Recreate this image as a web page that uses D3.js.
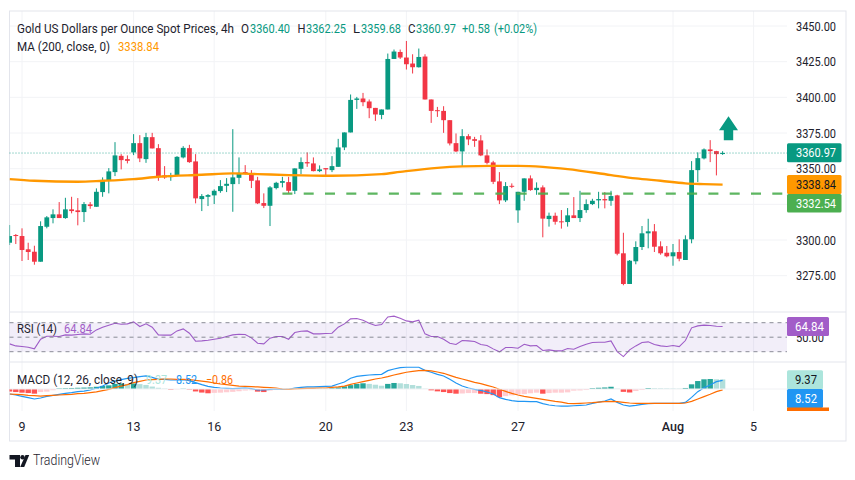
<!DOCTYPE html>
<html>
<head>
<meta charset="utf-8">
<style>
  html, body { margin: 0; background: #fff; }
  text { font-family: Roboto, sans-serif; font-size: 12.5px; fill: #1E222D; }
</style>
<script src="https://cdn.jsdelivr.net/npm/d3@7/dist/d3.min.js"></script>
</head>
<body>
<div id="app"></div>
<script>
// DATA
const opens = [
  3298.1, 3303.5, 3302.8, 3293.5, 3291.8, 3284.8, 3309.3, 3315.4, 3318, 3315.4,
  3321.5, 3320.8, 3319.6, 3325, 3323.3, 3333.6, 3342, 3347.6, 3359, 3356.7,
  3361.4, 3367.9, 3356.7, 3372.1, 3364.4, 3345.3, 3344.1, 3345.3, 3357.9, 3364.4,
  3355.1, 3328.7, 3330.3, 3331.3, 3334.3, 3338, 3339.2, 3343.6, 3347.6, 3346.9,
  3341.8, 3325.9, 3324, 3336.4, 3340.1, 3340.6, 3334.5, 3349.9, 3354.6, 3353.7,
  3348.3, 3350.4, 3349, 3351.3, 3364.9, 3375.4, 3398.2, 3399.2, 3397.1, 3392.6,
  3387.7, 3391.5, 3426.9, 3431.8, 3427.9, 3423.7, 3421.1, 3428.6, 3398.5, 3391,
  3390.5, 3384, 3367.9, 3362.1, 3372.8, 3370.7, 3369.8, 3359.3, 3354.4, 3341.1,
  3327.8, 3338, 3320.8, 3333.8, 3343.2, 3335, 3336.9, 3314.7, 3317, 3313.1,
  3312.6, 3317.3, 3315.4, 3321, 3325.2, 3327.8, 3328.7, 3327.5, 3331.3, 3290.7,
  3269.2, 3285.1, 3295.1, 3304.7, 3306.1, 3295.6, 3291.1, 3288.6, 3291.6, 3286,
  3300.5, 3349, 3357.2, 3363.5, 3362.3, 3360.40
];
const closes = [
  3302.8, 3302.8, 3293, 3291.6, 3284.8, 3309.8, 3315.9, 3318, 3315.4, 3321.5,
  3320.3, 3319.6, 3325.2, 3323.8, 3333.8, 3342, 3348.1, 3359.3, 3356, 3355.5,
  3367.9, 3357.2, 3372.1, 3364.2, 3344.8, 3343.9, 3345.5, 3358.3, 3364.6, 3354.6,
  3329.2, 3330.8, 3331.5, 3334.5, 3337.8, 3339.4, 3343.9, 3347.1, 3346.7, 3341.5,
  3325.7, 3324, 3336.9, 3340.1, 3341.3, 3334.5, 3350.2, 3354.6, 3353.7, 3348.3,
  3349.5, 3349.5, 3351.8, 3364.9, 3375.4, 3398.2, 3399.2, 3396.6, 3392.4, 3388,
  3391.5, 3426.9, 3432.1, 3427.9, 3423.2, 3421.1, 3428.3, 3398.5, 3390.5, 3390.3,
  3384, 3367.7, 3362.1, 3372.8, 3370.5, 3369.5, 3359.3, 3354.1, 3340.8, 3327.8,
  3337.8, 3337.3, 3333.8, 3343.2, 3335, 3336.6, 3315, 3317, 3312.8, 3312.6,
  3317.3, 3315.4, 3321, 3325.2, 3327.5, 3328.7, 3327.8, 3330.8, 3290.4, 3269.2,
  3285.5, 3295.1, 3304.7, 3306.1, 3295.3, 3290.7, 3288.6, 3291.4, 3286.9, 3300.5,
  3349, 3357.4, 3363.5, 3362.3, 3360.2, 3360.97
];
const highs = [
  3310.5, 3304.2, 3308.2, 3298.1, 3296, 3313.1, 3316.8, 3321.5, 3326.6, 3329.6,
  3330.3, 3329.4, 3326.6, 3326.6, 3336.2, 3343.9, 3350.4, 3368.6, 3360.2, 3359.3,
  3374.2, 3373.5, 3375.1, 3375.1, 3367.2, 3351.8, 3347.1, 3358.8, 3365.8, 3366.7,
  3360.2, 3332.2, 3332.2, 3335.5, 3342, 3343.4, 3377.7, 3357.9, 3352.5, 3349,
  3344.3, 3332.7, 3337.8, 3340.8, 3344.3, 3344.3, 3350.2, 3357.9, 3361.4, 3357.9,
  3352.3, 3350.4, 3358.8, 3370.9, 3375.4, 3402, 3400.3, 3403.1, 3398.5, 3392.6,
  3391.5, 3430.7, 3433.5, 3433.5, 3439.5, 3430.2, 3434.2, 3430.2, 3398.5, 3393.3,
  3393.8, 3384, 3374.7, 3377.7, 3374.2, 3372.3, 3373.5, 3363.5, 3355.5, 3347.6,
  3340.6, 3339.7, 3333.8, 3343.2, 3345.3, 3340.4, 3338.3, 3319.2, 3319.2, 3321,
  3322.4, 3330.1, 3334.5, 3328.5, 3328.9, 3333.8, 3333.6, 3334.5, 3331.7, 3305.1,
  3286, 3299.1, 3309.8, 3314.9, 3311.2, 3299.1, 3295.8, 3297.2, 3300.5, 3303.3,
  3355.3, 3361.4, 3364.2, 3370, 3362.5, 3362.25
];
const lows = [
  3296.5, 3297.2, 3285.3, 3286, 3282.7, 3284.8, 3308.2, 3311.7, 3315.4, 3314.9,
  3318.7, 3310.3, 3312.6, 3321.9, 3323.3, 3330.3, 3332.7, 3344.8, 3349.5, 3353.7,
  3359.5, 3354.6, 3354.1, 3364.2, 3341.5, 3342.9, 3341.5, 3344.8, 3357.2, 3354.1,
  3325.7, 3320.3, 3323.8, 3325.2, 3333.1, 3333.6, 3319.8, 3339.2, 3346, 3336.4,
  3325.2, 3322.4, 3309.8, 3335.5, 3336.9, 3332.7, 3332.2, 3346.2, 3351.3, 3348.1,
  3347.6, 3345, 3347.6, 3351.3, 3363, 3375.4, 3391.9, 3393.8, 3385.4, 3383.5,
  3384.7, 3391.5, 3426.9, 3426.9, 3419.5, 3416.7, 3420.9, 3398.5, 3382.1, 3386.3,
  3375.1, 3366.3, 3361.6, 3351.8, 3366.5, 3365.3, 3358.8, 3353, 3339.2, 3325.2,
  3326.6, 3336.4, 3312.1, 3327.5, 3334.5, 3331.7, 3301.9, 3309.4, 3310.8, 3308,
  3309.4, 3315.4, 3312.6, 3319.1, 3324.5, 3322.2, 3322.2, 3324, 3289.3, 3268.3,
  3269.2, 3283, 3293, 3294.2, 3291.6, 3289.7, 3287.9, 3282, 3285.1, 3286,
  3297.7, 3340.6, 3356.5, 3354.6, 3345.3, 3359.68
];

const maBars = [0, 4, 11, 15, 20, 24, 31, 36, 40, 45, 52, 60, 63, 69, 73, 78, 82, 86, 90, 97, 101, 105, 109, 112, 115];
const maValues = [
  3342.7, 3341.5, 3340.8, 3341.5, 3342.7, 3344.3, 3345.7, 3346.7, 3346.2, 3345.5,
  3345, 3346.2, 3347.8, 3350.6, 3351.6, 3352, 3352, 3351.3, 3349.7, 3345.5,
  3343.2, 3341.5, 3339.7, 3339.2, 3338.84
];

const rsiValues = [
  40.8, 38, 37.1, 36.2, 33.9, 47.2, 51.4, 51.4, 50.9, 53.2,
  52.8, 53.7, 54.6, 54.1, 60.1, 63.8, 66.6, 69.3, 67.9, 68.4,
  71.1, 64.7, 68.4, 63.8, 53.2, 52.8, 52.8, 58.7, 61.5, 55.5,
  44.5, 44.9, 45.9, 47.2, 48.6, 50.9, 53.2, 54.1, 53.7, 49.1,
  41.7, 40.8, 48.6, 50.9, 50.9, 47.2, 56.4, 58.3, 58.7, 54.6,
  54.6, 55.1, 55.5, 63.8, 68.4, 75.3, 75.7, 73.4, 69.3, 66.1,
  67.5, 78, 79, 76.2, 72.5, 71.1, 73.4, 54.6, 50.9, 50.9,
  47.2, 41.7, 39.9, 45.4, 44.9, 44, 39.9, 38.5, 33.9, 29.8,
  35.7, 35.7, 34.8, 40.3, 38, 38.5, 31.6, 32.5, 31.1, 31.1,
  34.4, 33.4, 37.1, 40.3, 42.6, 43.1, 43.1, 44.9, 30.2, 23.3,
  32.5, 38, 42.6, 43.6, 39.9, 38, 37.1, 38.5, 37.1, 45.4,
  62.9, 65.6, 66.6, 66.1, 65.2, 64.84
];

const macdValues = [
  -4.9, -5.9, -7.2, -8.5, -9.8, -8.8, -7.2, -6.2, -5.2, -4.3,
  -3.6, -2.6, -2, -1, 0.7, 2.9, 5.9, 7.8, 9.2, 10.5,
  11.1, 12.1, 12.8, 11.4, 9.5, 9.5, 8.8, 8.8, 9.2, 8.2,
  6.2, 4.3, 2.6, 1.6, 1, 0.7, 0.3, 0.7, 1, 0.3,
  -1, -1, -0.3, 0, -0.3, -0.3, 1, 1.6, 2, 2,
  2.3, 2.6, 2.9, 4.9, 6.9, 10.5, 12.4, 13.1, 13.7, 14.1,
  14.4, 18, 19.6, 20.9, 21.3, 21.3, 21.3, 18.3, 16.4, 14.4,
  12.8, 9.5, 5.9, 2.9, 1, -0.3, -1.3, -2.9, -4.9, -8.5,
  -10.1, -11.4, -12.1, -12.1, -12.4, -12.4, -14.4, -15.7, -16.4, -16.7,
  -16.7, -16.4, -16, -15.7, -14.1, -12.8, -11.8, -9.8, -13.1, -15.7,
  -16.7, -16, -15, -14.4, -14.1, -14.1, -14.1, -14.1, -14.1, -13.1,
  -8.2, -2.6, 1.3, 3.9, 7.2, 8.52
];
const signalValues = [
  -4.9, -5.2, -5.6, -6.2, -6.5, -6.9, -6.5, -6.2, -5.9, -5.6,
  -5.2, -4.6, -4.3, -3.6, -2.9, -1.6, -0.3, 1.3, 2.9, 4.3,
  6.2, 7.5, 8.8, 9.2, 9.5, 9.8, 9.8, 9.5, 9.5, 9.2,
  8.5, 7.8, 6.9, 5.9, 4.9, 4.3, 3.6, 2.9, 2.6, 2.3,
  2, 1.6, 1.3, 1, 0, -0.3, 0, 0.3, 0.7, 0.7,
  1, 1, 1.6, 2, 2.9, 4.6, 5.9, 7.2, 8.5, 9.8,
  10.8, 12.1, 13.7, 15, 16.4, 17.3, 18, 18.3, 17.7, 16.7,
  15.4, 13.4, 11.4, 9.8, 8.2, 6.5, 5.2, 3.6, 2, -0.3,
  -2.3, -4.3, -5.9, -7.2, -8.2, -9.2, -10.1, -11.1, -12.1, -12.8,
  -14.1, -14.4, -14.1, -13.7, -13.4, -12.8, -12.4, -12.1, -12.4, -13.1,
  -13.7, -14.1, -14.1, -14.1, -14.1, -14.1, -14.1, -14.1, -14.1, -13.7,
  -12.1, -9.8, -7.5, -5.2, -2.6, -0.86
];
const histValues = [
  -2.5, -3, -3.6, -4, -4.6, -3, -2.6, -1.2, 0.6, 0.8,
  1, 1.2, 1.4, 1.6, 2.2, 3, 3.6, 5, 5.4, 4.8,
  5.4, 4.8, 4, 2.4, 1.2, 0.4, -0.6, -0.3, 0.3, -0.5,
  -2.4, -3.5, -4.2, -3.8, -3.6, -3.2, -2.8, -2.2, -1.5, -1.2,
  -2.6, -3, -1.5, -1, -0.6, 0.1, 0.4, 0.9, 1, 0.9,
  0.8, 0.7, 0.8, 1.6, 2.6, 3.8, 5, 5.6, 5, 4.2,
  3.2, 5, 5.9, 5.6, 4.9, 3.9, 3, 0.3, -1.3, -2.3,
  -3, -4, -4.6, -4.4, -4, -4, -4.6, -5, -6, -8,
  -7, -6.2, -5.2, -5, -4.2, -3.6, -4.6, -4, -3.6, -3.6,
  -3.3, -1.6, -1.4, -1, 0.8, 1.2, 1.5, 2.2, 0.3, -2.8,
  -3.4, -2, -1, 0.9, 0.8, 0.7, 0.6, 0.5, 0.4, 1,
  4.6, 7.8, 9.5, 9.8, 9.5, 9.37
];

const priceTicks = [3450, 3425, 3400, 3375, 3350, 3300, 3275];
const priceGrid = [3450, 3425, 3400, 3375, 3350, 3325, 3300, 3275];
const dateBars = [2, 20, 33, 51, 64, 82, 107, 120];
const dateLabels = ['9', '13', '16', '20', '23', '27', 'Aug', '5'];

const lastClose = 3360.97;
const maLast = 3338.84;
const support = 3332.54;
const supportStartBar = 44;
const arrowBar = 116;
const arrowTop = 3386.8;

const GREEN = '#089981';
const RED = '#F23645';
const GRID = '#F2F3F6';
const BORDER = '#E3E5EC';
const PURPLE = '#A25DC8';

// SCALES
const PANE_LEFT = 9.5;
const PANE_RIGHT = 787;
const x = d3.scaleLinear().domain([0, 115]).range([9.6, 722.6]);
const y = d3.scaleLinear().domain([3275, 3450]).range([275.7, 26]);
const yRsi = d3.scaleLinear().domain([30, 70]).range([351.7, 322.7]);
const yMacd = d3.scaleLinear().domain([-20, 20]).range([409.4, 368.6]);

const $svg = d3.select('#app')
  .append('svg')
  .attr('width', 855)
  .attr('height', 480)
  .style('display', 'block');

$svg.append('defs').append('clipPath').attr('id', 'pane')
  .append('rect')
  .attr('x', PANE_LEFT)
  .attr('y', 11)
  .attr('width', PANE_RIGHT - PANE_LEFT)
  .attr('height', 400);

function label(txt, px, py, width, opts = {}) {
  const $t = $svg.append('text').attr('x', px).attr('y', py).text(txt);
  if (width) $t.attr('textLength', width).attr('lengthAdjust', 'spacingAndGlyphs');
  if (opts.fill) $t.style('fill', opts.fill);
  if (opts.anchor) $t.attr('text-anchor', opts.anchor);
  if (opts.weight) $t.style('font-weight', opts.weight);
  if (opts.size) $t.style('font-size', opts.size + 'px');
  return $t;
}

function hLine(value, scale, left, right) {
  return $svg.append('line')
    .attr('x1', left).attr('x2', right)
    .attr('y1', scale(value)).attr('y2', scale(value));
}

// GRID AND FRAME
$svg.append('g').selectAll('line').data(priceGrid).enter().append('line')
  .attr('x1', PANE_LEFT).attr('x2', PANE_RIGHT)
  .attr('y1', d => y(d)).attr('y2', d => y(d))
  .attr('stroke', GRID);

$svg.append('g').selectAll('line').data(dateBars).enter().append('line')
  .attr('x1', d => x(d)).attr('x2', d => x(d))
  .attr('y1', 11).attr('y2', 411)
  .attr('stroke', GRID);

$svg.append('rect')
  .attr('x', PANE_LEFT).attr('y', 11)
  .attr('width', 846 - PANE_LEFT).attr('height', 430)
  .attr('fill', 'none').attr('stroke', BORDER);
[312, 362].forEach(py => {
  $svg.append('line')
    .attr('x1', PANE_LEFT).attr('x2', 846)
    .attr('y1', py).attr('y2', py)
    .attr('stroke', BORDER);
});

// MAIN PANE
const bars = d3.range(opens.length);

const $chart = $svg.append('g').attr('clip-path', 'url(#pane)');

hLine(lastClose, y, PANE_LEFT, PANE_RIGHT)
  .attr('stroke', GREEN).attr('stroke-dasharray', '1 2').attr('opacity', 0.75);

$chart.append('g').selectAll('line').data(bars).enter().append('line')
  .attr('x1', d => x(d)).attr('x2', d => x(d))
  .attr('y1', d => y(highs[d])).attr('y2', d => y(lows[d]))
  .attr('stroke', d => closes[d] >= opens[d] ? GREEN : RED);

$chart.append('g').selectAll('rect').data(bars).enter().append('rect')
  .attr('x', d => x(d) - 2.4)
  .attr('width', 4.8)
  .attr('y', d => y(Math.max(opens[d], closes[d])))
  .attr('height', d => Math.max(1, Math.abs(y(opens[d]) - y(closes[d]))))
  .attr('fill', d => closes[d] >= opens[d] ? GREEN : RED);

const maLine = d3.line()
  .x((d, i) => x(maBars[i]))
  .y(d => y(d))
  .curve(d3.curveMonotoneX);

$chart.append('path')
  .attr('d', maLine(maValues))
  .attr('fill', 'none')
  .attr('stroke', '#FF9800')
  .attr('stroke-width', 2.4);

hLine(support, y, x(supportStartBar), PANE_RIGHT)
  .attr('stroke', '#4CAF50')
  .attr('stroke-width', 2.3)
  .attr('stroke-dasharray', '10 11.3')
  .attr('opacity', 0.9);

// up arrow, anchored on the last bars
const arrowX = x(arrowBar) - 0.3;
const arrowY = y(arrowTop);
$svg.append('path')
  .attr('d', d3.line()([
    [arrowX, arrowY], [arrowX + 9.5, arrowY + 14], [arrowX + 4.7, arrowY + 14],
    [arrowX + 4.7, arrowY + 24], [arrowX - 4.7, arrowY + 24], [arrowX - 4.7, arrowY + 14],
    [arrowX - 9.5, arrowY + 14]
  ]) + 'Z')
  .attr('fill', GREEN);

// RSI PANE
$svg.append('rect')
  .attr('x', PANE_LEFT).attr('width', PANE_RIGHT - PANE_LEFT)
  .attr('y', yRsi(70)).attr('height', yRsi(30) - yRsi(70))
  .attr('fill', '#7E57C2').attr('opacity', 0.1);

[70, 50, 30].forEach(level => {
  hLine(level, yRsi, PANE_LEFT, PANE_RIGHT)
    .attr('stroke', '#787B86').attr('stroke-dasharray', '4 4').attr('opacity', 0.85);
});

$chart.append('path')
  .attr('d', d3.line().x((d, i) => x(i)).y(d => yRsi(d))(rsiValues))
  .attr('fill', 'none')
  .attr('stroke', PURPLE)
  .attr('stroke-width', 1.1);

// MACD PANE
hLine(0, yMacd, PANE_LEFT, PANE_RIGHT).attr('stroke', '#F0F1F4');

function histColour(d, i) {
  const prev = i > 0 ? histValues[i - 1] : d;
  if (d >= 0) return d > prev ? '#26A69A' : '#B2DFDB';
  return d < prev || i === 0 ? '#FF5252' : '#FFCDD2';
}

$chart.append('g').selectAll('rect').data(histValues).enter().append('rect')
  .attr('x', (d, i) => x(i) - 2.7)
  .attr('width', 5.4)
  .attr('y', d => yMacd(Math.max(d, 0)))
  .attr('height', d => Math.abs(yMacd(d) - yMacd(0)))
  .attr('fill', histColour);

[[macdValues, '#2196F3'], [signalValues, '#FF6D00']].forEach(([values, colour]) => {
  $chart.append('path')
    .attr('d', d3.line().x((d, i) => x(i)).y(d => yMacd(d))(values))
    .attr('fill', 'none')
    .attr('stroke', colour)
    .attr('stroke-width', 1.2);
});

// LEGENDS
label('Gold US Dollars per Ounce Spot Prices, 4h', 17, 32.5, 217);
[['O', 241, 250, '3360.40', 8], ['H', 297.5, 306, '3362.25', 8],
 ['L', 353, 361, '3359.68', 7], ['C', 408, 416, '3360.97', 7.5]].forEach(([k, kx, vx, v, kw]) => {
  label(k, kx, 32.5, kw);
  label(v, vx, 32.5, 40, { fill: GREEN });
});
label('+0.58', 462, 32.5, 28, { fill: GREEN });
label('(+0.02%)', 494, 32.5, 43, { fill: GREEN });

label('MA (200, close, 0)', 17, 50.5, 93);
label('3338.84', 118, 50.5, 41, { fill: '#FF9800' });

label('RSI (14)', 17, 332.5, 40);
label('64.84', 64, 332.5, 28, { fill: PURPLE });

label('MACD (12, 26, close, 9)', 17, 383.5, 121);
label('9.37', 146, 383.5, 21, { fill: '#ACE5DC' });
label('8.52', 176, 383.5, 21, { fill: '#2196F3' });
label('\u22120.86', 206, 383.5, 27, { fill: '#FF6D00' });

// PRICE SCALE
priceTicks.forEach(d => label(d3.format('.2f')(d), 796, y(d) + 4.5, 40));
label('50.00', 796, yRsi(50) + 4.8, 28);

function priceBox(txt, top, height, width, fill, textFill, textX, textWidth) {
  $svg.append('rect')
    .attr('x', 787).attr('y', top)
    .attr('width', width).attr('height', height)
    .attr('rx', 1.5)
    .attr('fill', fill);
  label(txt, textX, top + height / 2 + 4.5, textWidth, { fill: textFill });
}

priceBox(d3.format('.2f')(lastClose), 143.3, 19, 54.5, GREEN, '#fff', 796, 40);
priceBox(d3.format('.2f')(maLast), 175, 19, 54.5, '#FF9800', '#131722', 796, 40);
priceBox(d3.format('.2f')(support), 194, 18.5, 54.5, '#4CAF50', '#fff', 796, 40);
priceBox('64.84', 317, 19, 42, PURPLE, '#fff', 795, 29);
priceBox('9.37', 370.3, 19, 36, '#ACE5DC', '#131722', 795, 22);
priceBox('8.52', 389, 19, 36, '#2196F3', '#fff', 795, 22);
$svg.append('rect')
  .attr('x', 787).attr('y', 407.5)
  .attr('width', 42).attr('height', 3.5)
  .attr('fill', '#FF6D00');

// TIME SCALE
dateBars.forEach((bar, i) => {
  const isMonth = dateLabels[i] === 'Aug';
  label(dateLabels[i], x(bar), 431, null, { anchor: 'middle', weight: isMonth ? 500 : 400 });
});

// LOGO
$svg.append('path')
  .attr('d', 'M9.5 455h10.5v12h-5v-7.5h-5.5z')
  .attr('fill', '#131722');
$svg.append('circle').attr('cx', 22.5).attr('cy', 457.3).attr('r', 2.2).attr('fill', '#131722');
$svg.append('path')
  .attr('d', 'M25.5 455h3.7l-5 12h-4z')
  .attr('fill', '#131722');
label('TradingView', 33, 465, 67, { size: 14.5, weight: 300 });
</script>
</body>
</html>
